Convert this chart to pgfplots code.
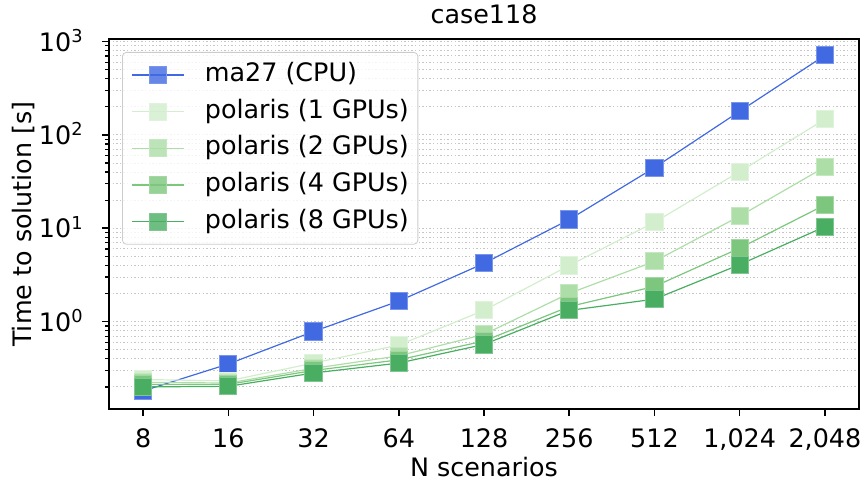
\documentclass[border=0pt]{standalone}
\usepackage{fontspec}
\setmainfont{DejaVu Sans}
\usepackage{pgfplots}
\pgfplotsset{compat=1.18}

\definecolor{cpu}{HTML}{4169E1}
\definecolor{ga}{HTML}{D3EECD}
\definecolor{gb}{HTML}{ADDEA7}
\definecolor{gc}{HTML}{7DC67D}
\definecolor{gd}{HTML}{4AAE62}

\newcommand\fs{\fontsize{12.7}{15.2}\selectfont}

\begin{document}
\begin{tikzpicture}
\begin{axis}[
  name=ax,
  scale only axis, width=375pt, height=185pt,
  xmin=-0.4, xmax=8.4,
  ymode=log, ymin=0.116, ymax=1064,
  xtick={0,1,2,3,4,5,6,7,8},
  xticklabels={8,16,32,64,128,256,512,{1,024},{2,048}},
  ytick={1,10,100,1000},
  yticklabels={10\textsuperscript{0},10\textsuperscript{1},10\textsuperscript{2},10\textsuperscript{3}},
  minor ytick={0.2,0.3,0.4,0.5,0.6,0.7,0.8,0.9,2,3,4,5,6,7,8,9,20,30,40,50,60,70,80,90,200,300,400,500,600,700,800,900},
  tick pos=left, tick align=outside,
  major tick length=3.5pt, minor tick length=2pt,
  every tick/.style={black, line width=0.8pt},
  every minor tick/.style={black, line width=0.6pt},
  axis line style={line width=0.8pt},
  ymajorgrids, yminorgrids,
  major grid style={gray!45, line width=0.5pt, dash pattern=on 0.7pt off 1.1pt},
  minor grid style={gray!45, line width=0.5pt, dash pattern=on 0.7pt off 1.1pt},
  xticklabel style={font=\fs, anchor=base, inner sep=0pt, yshift=-15.6pt},
  yticklabel style={font=\fs, anchor=base east, inner sep=0pt, xshift=-9.0pt, yshift=-4.75pt},
  clip=false,
  legend cell align=left,
  legend image code/.code={\draw[mark repeat=2,mark phase=2,#1] plot coordinates {(0pt,0pt) (12.9pt,0pt) (25.8pt,0pt)};},
  legend style={at={(axis description cs:0,1)}, anchor=north west, xshift=6.5pt, yshift=-6.5pt,
    draw=black!20, rounded corners=2pt, fill=white, fill opacity=0.8, text opacity=1,
    font=\fs, inner xsep=4.5pt, inner ysep=4.9pt, row sep=5.65pt,
    nodes={inner sep=0pt, text height=9.65pt, text depth=3.05pt},
    /tikz/every odd column/.append style={column sep=10.35pt}},
]
\addplot[color=cpu, line width=0.6pt, mark=square*, mark size=4.3pt, mark options={fill=cpu, draw=cpu!70!white, line width=0.5pt}]
  coordinates {(0,0.181) (1,0.352) (2,0.785) (3,1.66) (4,4.21) (5,12.4) (6,44.6) (7,179) (8,711)};
\addlegendentry{ma27 (CPU)}
\addplot[color=ga, line width=0.6pt, mark=square*, mark size=4.3pt, mark options={fill=ga, draw=ga!70!white, line width=0.5pt}]
  coordinates {(0,0.24) (1,0.232) (2,0.36) (3,0.561) (4,1.32) (5,4.0) (6,11.6) (7,40.4) (8,147)};
\addlegendentry{polaris (1 GPUs)}
\addplot[color=gb, line width=0.6pt, mark=square*, mark size=4.3pt, mark options={fill=gb, draw=gb!70!white, line width=0.5pt}]
  coordinates {(0,0.224) (1,0.22) (2,0.316) (3,0.43) (4,0.73) (5,2.01) (6,4.42) (7,13.5) (8,45.3)};
\addlegendentry{polaris (2 GPUs)}
\addplot[color=gc, line width=0.6pt, mark=square*, mark size=4.3pt, mark options={fill=gc, draw=gc!70!white, line width=0.5pt}]
  coordinates {(0,0.213) (1,0.213) (2,0.30) (3,0.39) (4,0.62) (5,1.45) (6,2.38) (7,6.13) (8,17.8)};
\addlegendentry{polaris (4 GPUs)}
\addplot[color=gd, line width=0.6pt, mark=square*, mark size=4.3pt, mark options={fill=gd, draw=gd!70!white, line width=0.5pt}]
  coordinates {(0,0.20) (1,0.203) (2,0.282) (3,0.36) (4,0.57) (5,1.32) (6,1.74) (7,4.08) (8,10.4)};
\addlegendentry{polaris (8 GPUs)}
\node[font=\fs, anchor=base, inner sep=0pt] at ([yshift=7.5pt]axis description cs:0.5,1) {case118};
\node[font=\fs, anchor=base, inner sep=0pt] at ([yshift=-33.5pt]axis description cs:0.5,0) {N scenarios};
\node[font=\fs, anchor=base, inner sep=0pt, rotate=90] at ([xshift=-38.75pt]axis description cs:0,0.5) {Time to solution [s]};
\end{axis}
\pgfresetboundingbox
\path[use as bounding box] ([shift={(-54.5pt,-38.5pt)}]ax.south west) rectangle ([shift={(2pt,19.5pt)}]ax.north east);
\end{tikzpicture}
\end{document}
